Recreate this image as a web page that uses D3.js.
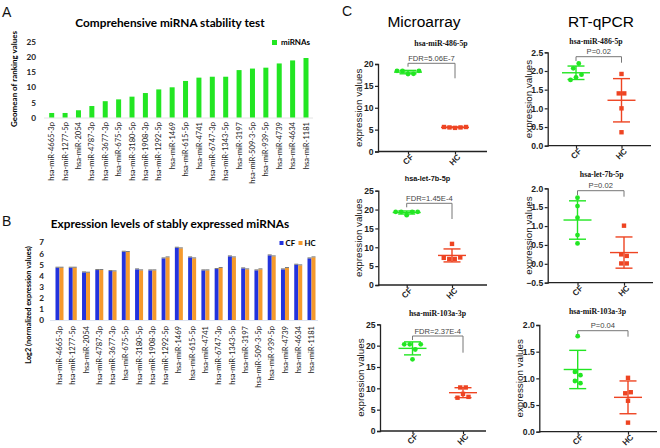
<!DOCTYPE html>
<html>
<head>
<meta charset="utf-8">
<script src="https://cdnjs.cloudflare.com/ajax/libs/d3/7.8.5/d3.min.js"></script>
<style>
  body { margin: 0; background: #fff; }
  svg { display: block; }
</style>
</head>
<body>
<div id="chart"></div>
<script>
// ---- panel A / B data ----
const mirNames = ["hsa-miR-4665-3p", "hsa-miR-1277-5p", "hsa-miR-2054", "hsa-miR-4787-3p",
  "hsa-miR-3677-3p", "hsa-miR-675-5p", "hsa-miR-3180-5p", "hsa-miR-1908-3p", "hsa-miR-1292-5p",
  "hsa-miR-1469", "hsa-miR-615-5p", "hsa-miR-4741", "hsa-miR-6747-3p", "hsa-miR-1343-5p",
  "hsa-miR-3197", "hsa-miR-509-3-5p", "hsa-miR-939-5p", "hsa-miR-4739", "hsa-miR-4634", "hsa-miR-1181"];
const geomean = [1.5, 1.5, 2.4, 3.8, 5.4, 6.0, 6.9, 8.1, 9.3, 10.0, 12.1, 13.2, 13.5, 13.5, 15.7, 16.2, 16.5, 17.9, 18.9, 19.7];
const ticksA = [0, 5, 10, 15, 20, 25];
const log2CF = [4.71, 4.71, 4.29, 4.5, 4.41, 6.15, 4.56, 4.47, 5.55, 6.51, 5.64, 4.47, 4.59, 5.73, 4.65, 4.47, 5.82, 4.56, 4.98, 5.55];
const log2HC = [4.71, 4.71, 4.26, 4.5, 4.38, 6.12, 4.47, 4.47, 5.64, 6.45, 5.55, 4.47, 4.68, 5.64, 4.56, 4.56, 5.73, 4.68, 4.92, 5.64];
const ticksB = [0, 1, 2, 3, 4, 5, 6, 7];

// ---- panel C data ----
const groups = ["CF", "HC"];
const m486CF = [18.45, 18.4, 17.7, 17.75, 18.45];
const m486HC = [5.6, 5.5, 5.4, 5.5, 5.6];
const q486CF = [2.07, 2.2, 1.76, 1.83, 1.9];
const q486HC = [1.92, 1.4, 1.4, 1.0, 0.36];
const mLet7CF = [19.4, 19.4, 18.5, 19.4, 19.4];
const mLet7HC = [10.9, 7.2, 6.9, 6.9, 7.3];
const qLet7CF = [1.75, 1.53, 1.22, 0.76, 0.54];
const qLet7HC = [1.01, 0.25, 0.21, 0.01, 0.01];
const m103CF = [20.3, 20.3, 16.8, 19.1, 20.3];
const m103HC = [10.2, 10.2, 7.8, 8.7, 8.0];
const q103CF = [1.79, 1.12, 1.06, 0.95, 0.91];
const q103HC = [1.01, 0.72, 0.74, 0.58, 0.17];
const ticksM20 = [0, 5, 10, 15, 20];
const ticksM25 = [0, 5, 10, 15, 20, 25];
const ticksQ25 = [0, 0.5, 1.0, 1.5, 2.0, 2.5];
const ticksQneg = [-0.5, 0, 0.5, 1.0, 1.5, 2.0];
const ticksQ20 = [0, 0.5, 1.0, 1.5, 2.0];

const GREEN = "#22e622";
const RED = "#ee4422";
const BLUE = "#2233dd";
const ORANGE = "#f59a2c";
const SANS = "Liberation Sans, Arial, sans-serif";
const SERIF = "Liberation Serif, Times New Roman, serif";
const XL = "Lato, sans-serif";

const svg = d3.select("#chart").append("svg").attr("width", 660).attr("height", 448);

const panelLabel = (txt, x, y) => {
  svg.append("text").attr("x", x).attr("y", y).text(txt)
    .style("font-family", SANS).style("font-size", "14px").attr("fill", "#111");
};

// rotated category labels under a bar chart
const addNameLabels = (x, yTop) => {
  svg.append("g").selectAll("text").data(mirNames).join("text")
    .attr("transform", (d) => `translate(${x(d) + 2.6},${yTop}) rotate(-90)`)
    .attr("text-anchor", "end")
    .style("font-family", XL).style("font-size", "7.6px").attr("fill", "#222")
    .text((d) => d);
};

const addYaxisExcel = (y, ticks, xPos) => {
  const g = svg.append("g").attr("transform", `translate(${xPos},0)`)
    .call(d3.axisLeft(y).tickValues(ticks).tickSize(0).tickPadding(0).tickFormat(d3.format("d")));
  g.select(".domain").remove();
  g.selectAll("text").style("font-family", XL).style("font-weight", "bold").style("font-size", "8.2px").attr("fill", "#222");
};

// ================= Panel A =================
panelLabel("A", 2, 17);
svg.append("text").attr("x", 170).attr("y", 27).attr("text-anchor", "middle")
  .style("font-family", XL).style("font-weight", "bold").style("font-size", "11.8px")
  .text("Comprehensive miRNA stability test");

const xA = d3.scalePoint().domain(mirNames).range([51.7, 306]);
const yA = d3.scaleLinear().domain([0, 25]).range([117.5, 42]);

svg.append("line").attr("x1", 44).attr("x2", 313).attr("y1", yA(0) + 0.5).attr("y2", yA(0) + 0.5)
  .attr("stroke", "#e4e4e4");
svg.append("g").selectAll("rect").data(geomean).join("rect")
  .attr("x", (d, i) => xA(mirNames[i]) - 2.5)
  .attr("y", (d) => yA(d))
  .attr("width", 5)
  .attr("height", (d) => yA(0) - yA(d))
  .attr("fill", GREEN);
addYaxisExcel(yA, ticksA, 36);
addNameLabels(xA, 122);
svg.append("text").attr("transform", `translate(17,79) rotate(-90)`).attr("text-anchor", "middle")
  .style("font-family", XL).style("font-weight", "bold").style("font-size", "8px")
  .text("Geomean of ranking values");
svg.append("rect").attr("x", 272).attr("y", 40).attr("width", 5).attr("height", 5).attr("fill", GREEN);
svg.append("text").attr("x", 281).attr("y", 45.3).text("miRNAs")
  .style("font-family", XL).style("font-weight", "bold").style("font-size", "8px");

// ================= Panel B =================
panelLabel("B", 2, 226);
svg.append("text").attr("x", 170).attr("y", 228).attr("text-anchor", "middle")
  .style("font-family", XL).style("font-weight", "bold").style("font-size", "11.8px")
  .text("Expression levels of stably expressed miRNAs");

const xB = d3.scalePoint().domain(mirNames).range([59.5, 311.5]);
const xB1 = d3.scaleBand().domain(groups).range([-4, 4]);
const yB = d3.scaleLinear().domain([0, 7]).range([320, 242.3]);

svg.append("line").attr("x1", 50).attr("x2", 318).attr("y1", yB(0) + 0.5).attr("y2", yB(0) + 0.5)
  .attr("stroke", "#dde3f0");
const pairs = mirNames.map((n, i) => ({ name: n, CF: log2CF[i], HC: log2HC[i] }));
const gB = svg.append("g").selectAll("g").data(pairs).join("g")
  .attr("transform", (d) => `translate(${xB(d.name)},0)`);
gB.selectAll("rect").data((d) => groups.map((k) => ({ k, v: d[k] }))).join("rect")
  .attr("x", (d) => xB1(d.k))
  .attr("y", (d) => yB(d.v))
  .attr("width", xB1.bandwidth())
  .attr("height", (d) => yB(0) - yB(d.v))
  .attr("fill", (d) => (d.k === "CF" ? BLUE : ORANGE));
gB.selectAll("line").data((d) => groups.map((k) => ({ k, v: d[k] }))).join("line")
  .attr("x1", (d) => xB1(d.k)).attr("x2", (d) => xB1(d.k) + xB1.bandwidth())
  .attr("y1", (d) => yB(d.v) - 0.5).attr("y2", (d) => yB(d.v) - 0.5)
  .attr("stroke", "#666").attr("stroke-width", 0.9);
addYaxisExcel(yB, ticksB, 44);
addNameLabels(xB, 326);
svg.append("text").attr("transform", `translate(31,305) rotate(-90)`).attr("text-anchor", "middle")
  .style("font-family", XL).style("font-weight", "bold").style("font-size", "7.4px")
  .text("Log2 (normalized expression values)");
svg.append("rect").attr("x", 279.5).attr("y", 241).attr("width", 4).attr("height", 4).attr("fill", BLUE);
svg.append("text").attr("x", 285.5).attr("y", 245.5).text("CF")
  .style("font-family", XL).style("font-weight", "bold").style("font-size", "7.8px");
svg.append("rect").attr("x", 298.5).attr("y", 241).attr("width", 4).attr("height", 4).attr("fill", ORANGE);
svg.append("text").attr("x", 304.5).attr("y", 245.5).text("HC")
  .style("font-family", XL).style("font-weight", "bold").style("font-size", "7.8px");

// ================= Panel C =================
panelLabel("C", 342, 16);
svg.append("text").attr("x", 424).attr("y", 27).attr("text-anchor", "middle")
  .style("font-family", SANS).style("font-size", "15.5px").text("Microarray");
svg.append("text").attr("x", 601).attr("y", 27).attr("text-anchor", "middle")
  .style("font-family", SANS).style("font-size", "15.5px").text("RT-qPCR");

// horizontal spread of points that sit at nearly the same height (Prism style)
const spreadX = (vals, y) => {
  const idx = d3.range(vals.length).sort((a, b) => vals[b] - vals[a]);
  const off = vals.map(() => 0);
  let cl = [idx[0]];
  const flush = () => {
    cl.sort((a, b) => a - b).forEach((k, j) => (off[k] = (j - (cl.length - 1) / 2) * 5.5));
  };
  for (let i = 1; i < idx.length; i++) {
    if (Math.abs(y(vals[idx[i]]) - y(vals[idx[i - 1]])) < 5.5) cl.push(idx[i]);
    else { flush(); cl = [idx[i]]; }
  }
  flush();
  return off;
};

const dotPlot = (p) => {
  const y = d3.scaleLinear().domain(d3.extent(p.ticks)).range([p.y0, p.y1]);
  const x = d3.scalePoint().domain(groups).range([p.cfX, p.hcX]);
  const g = svg.append("g");

  // y axis
  const ya = g.append("g").attr("transform", `translate(${p.ax},0)`)
    .call(d3.axisLeft(y).tickValues(p.ticks).tickSize(3).tickPadding(1.5)
      .tickFormat(d3.format(p.fmt)));
  ya.select(".domain").attr("stroke", "#222").attr("stroke-width", 1.3);
  ya.selectAll(".tick line").attr("stroke", "#222").attr("stroke-width", 1.2);
  ya.selectAll("text").style("font-family", SANS).style("font-weight", "bold")
    .style("font-size", "8.6px").attr("fill", "#222");

  // x axis
  g.append("line").attr("x1", p.ax).attr("x2", p.axEnd).attr("y1", p.y0).attr("y2", p.y0)
    .attr("stroke", "#222").attr("stroke-width", 1.3);
  const xa = g.append("g").attr("transform", `translate(0,${p.y0})`)
    .call(d3.axisBottom(x).tickSize(3).tickSizeOuter(0));
  xa.select(".domain").remove();
  xa.selectAll(".tick line").attr("stroke", "#222").attr("stroke-width", 1.2);
  xa.selectAll("text").attr("y", null).attr("dy", null)
    .attr("transform", "translate(3.5,4) rotate(-45)").attr("text-anchor", "end")
    .attr("dy", "0.35em")
    .style("font-family", SANS).style("font-weight", "bold").style("font-size", "8.2px").attr("fill", "#222");

  // y label
  g.append("text").attr("transform", `translate(${p.ax - 16},${(p.y0 + p.y1) / 2}) rotate(-90)`)
    .attr("text-anchor", "middle").style("font-family", SANS).style("font-size", "9.8px")
    .attr("fill", "#111").text("expression values");

  // title
  g.append("text").attr("x", p.titleX).attr("y", p.titleY).attr("text-anchor", "middle")
    .style("font-family", p.serif ? SERIF : SANS).style("font-weight", "bold")
    .style("font-size", p.serif ? "7.8px" : "7.3px").attr("fill", "#111").text(p.title);

  // significance bracket
  const bx0 = x("CF"), bx1 = x("HC");
  g.append("path")
    .attr("d", `M${bx0},${p.brY + p.legL}V${p.brY}H${bx1}V${p.brY + p.legR}`)
    .attr("fill", "none").attr("stroke", "#777").attr("stroke-width", 1);
  g.append("text").attr("x", (bx0 + bx1) / 2).attr("y", p.brY - 2.5).attr("text-anchor", "middle")
    .style("font-family", SANS).style("font-size", "7.6px").attr("fill", "#444").text(p.test);

  // mean +/- SD and points per group
  [["CF", p.cf, GREEN], ["HC", p.hc, RED]].forEach(([k, vals, col]) => {
    const cx = x(k);
    const m = d3.mean(vals), s = d3.deviation(vals);
    const eg = g.append("g").attr("stroke", col).attr("stroke-width", 1.4);
    eg.append("line").attr("x1", cx).attr("x2", cx).attr("y1", y(m - s)).attr("y2", y(m + s));
    eg.append("line").attr("x1", cx - 14).attr("x2", cx + 14).attr("y1", y(m)).attr("y2", y(m));
    [m - s, m + s].forEach((v) => {
      eg.append("line").attr("x1", cx - 8.5).attr("x2", cx + 8.5).attr("y1", y(v)).attr("y2", y(v));
    });
    const off = spreadX(vals, y);
    if (k === "CF") {
      g.append("g").selectAll("circle").data(vals).join("circle")
        .attr("cx", (d, i) => cx + off[i]).attr("cy", (d) => y(d)).attr("r", 2.4).attr("fill", col);
    } else {
      g.append("g").selectAll("rect").data(vals).join("rect")
        .attr("x", (d, i) => cx + off[i] - 2.2).attr("y", (d) => y(d) - 2.2)
        .attr("width", 4.4).attr("height", 4.4).attr("fill", col);
    }
  });
};

dotPlot({ title: "hsa-miR-486-5p", cf: m486CF, hc: m486HC, ticks: ticksM20, fmt: "d", test: "FDR=5.06E-7",
  ax: 378, y0: 151.5, y1: 64, axEnd: 487, cfX: 408, hcX: 455, titleX: 441, titleY: 46, serif: true,
  brY: 63.3, legL: 3.4, legR: 15 });
dotPlot({ title: "hsa-miR-486-5p", cf: q486CF, hc: q486HC, ticks: ticksQ25, fmt: ".1f", test: "P=0.02",
  ax: 547.7, y0: 145.7, y1: 52.3, axEnd: 651, cfX: 576, hcX: 621.5, titleX: 596, titleY: 43.5, serif: true,
  brY: 56.7, legL: 4.3, legR: 6 });
dotPlot({ title: "hsa-let-7b-5p", cf: mLet7CF, hc: mLet7HC, ticks: ticksM25, fmt: "d", test: "FDR=1.45E-4",
  ax: 378.3, y0: 285, y1: 190.7, axEnd: 487, cfX: 406.7, hcX: 452, titleX: 427.5, titleY: 181, serif: false,
  brY: 203.3, legL: 4, legR: 15.7 });
dotPlot({ title: "hsa-let-7b-5p", cf: qLet7CF, hc: qLet7HC, ticks: ticksQneg, fmt: ".1f", test: "P=0.02",
  ax: 547.7, y0: 282.7, y1: 188.3, axEnd: 653, cfX: 577.5, hcX: 624, titleX: 601.7, titleY: 177, serif: true,
  brY: 190.7, legL: 4.3, legR: 6 });
dotPlot({ title: "hsa-miR-103a-3p", cf: m103CF, hc: m103HC, ticks: ticksM25, fmt: "d", test: "FDR=2.37E-4",
  ax: 380, y0: 431, y1: 324.3, axEnd: 486, cfX: 412.5, hcX: 463, titleX: 437.5, titleY: 316, serif: true,
  brY: 336, legL: 4, legR: 16.7 });
dotPlot({ title: "hsa-miR-103a-3p", cf: q103CF, hc: q103HC, ticks: ticksQ20, fmt: ".1f", test: "P=0.04",
  ax: 539.3, y0: 431.7, y1: 325, axEnd: 657, cfX: 577.7, hcX: 628, titleX: 597.5, titleY: 314, serif: true,
  brY: 330.7, legL: 4.3, legR: 6 });
</script>
</body>
</html>
